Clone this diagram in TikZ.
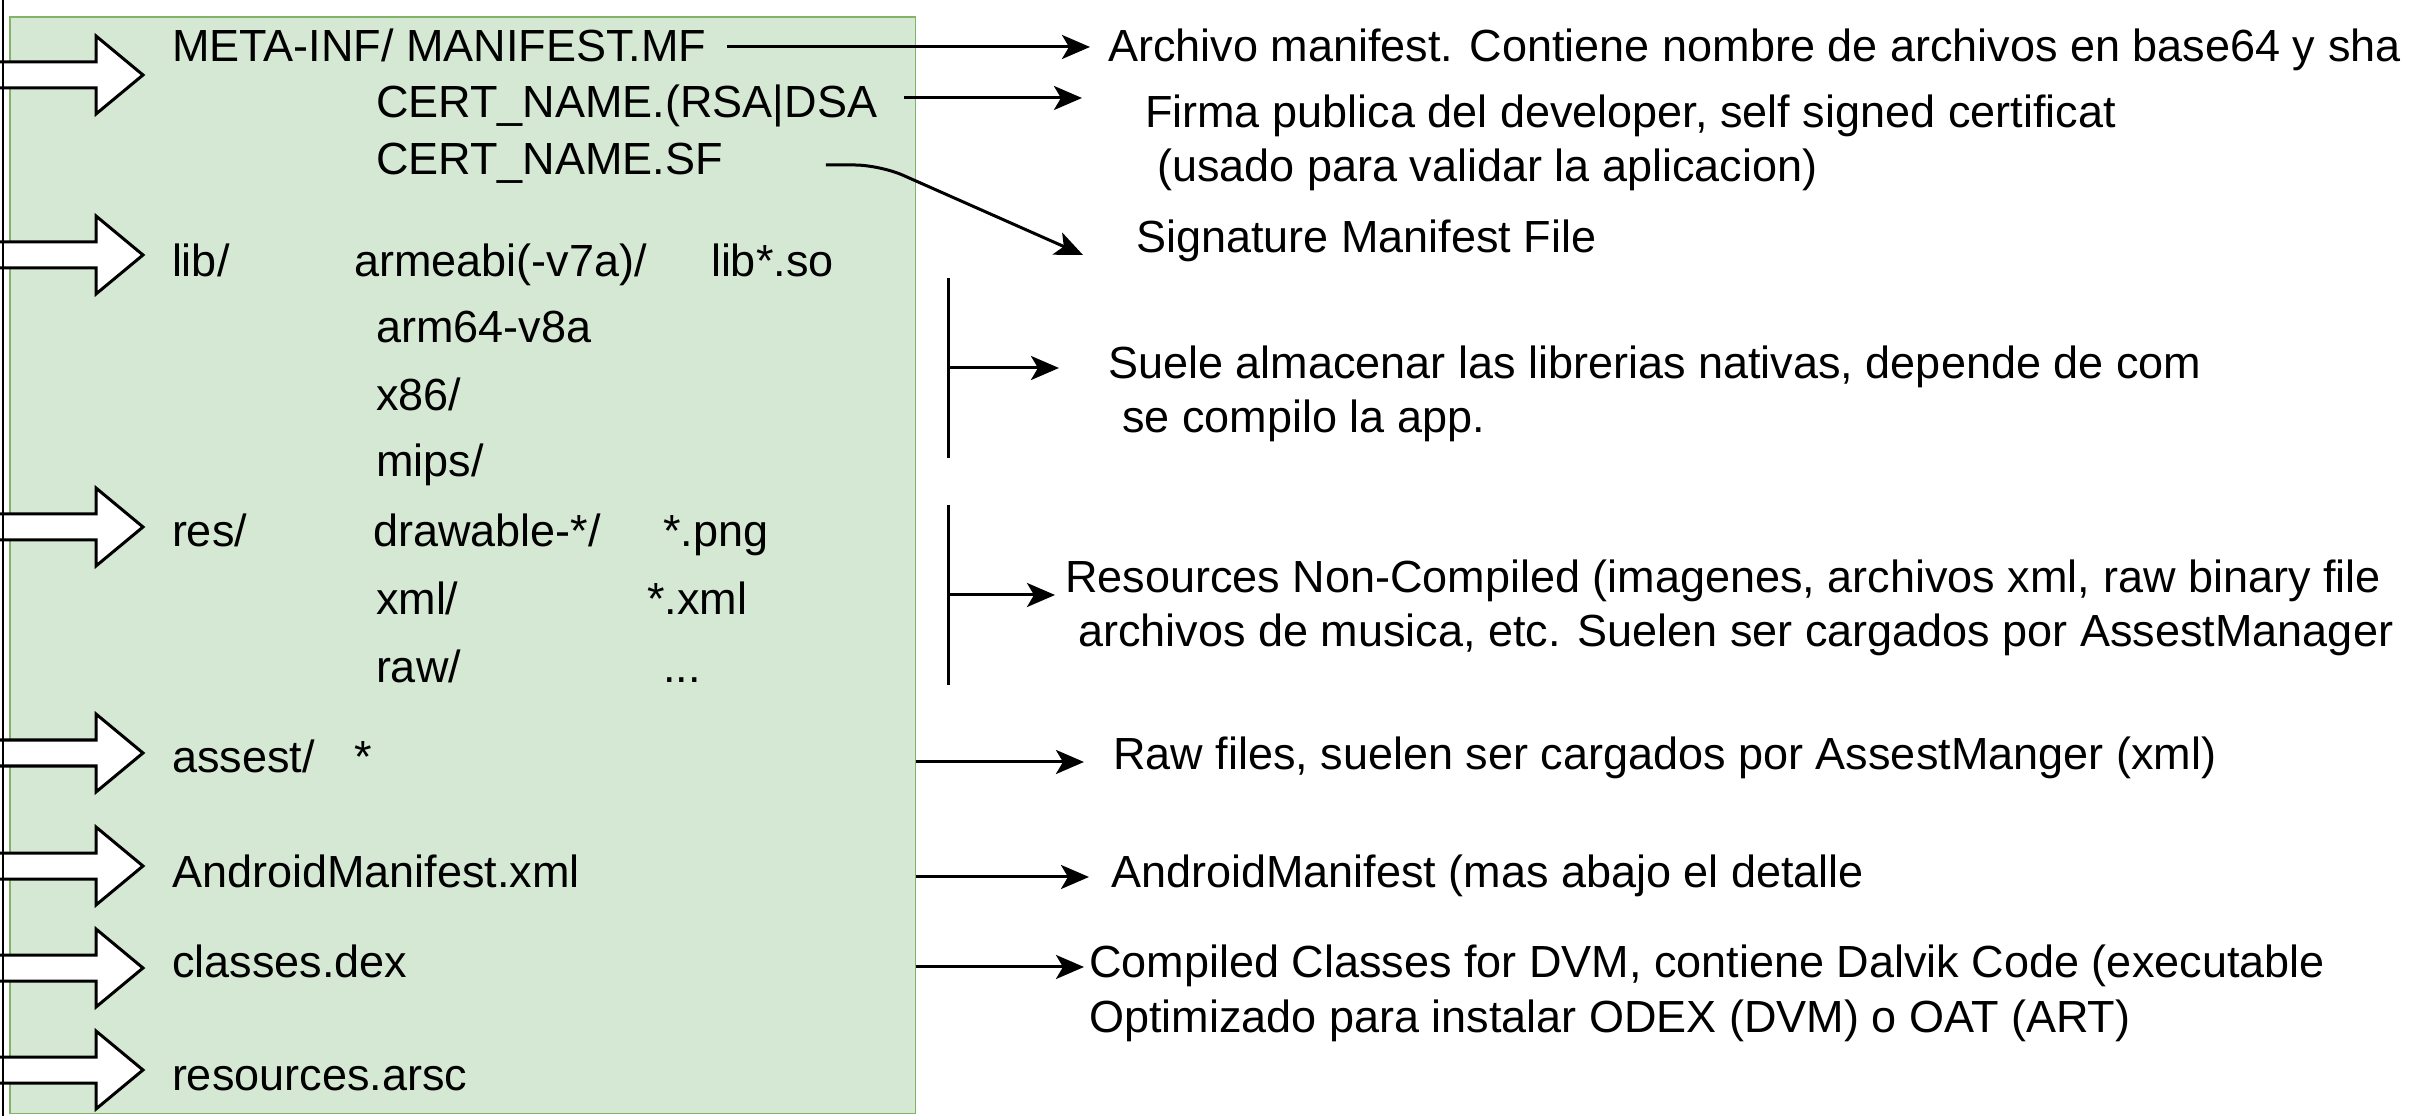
\documentclass[tikz,border=0pt]{standalone}
\usepackage{fontspec}
\setmainfont{Liberation Sans}
\usepackage{xcolor}
\definecolor{boxgreen}{RGB}{213,232,212}
\definecolor{boxline}{RGB}{130,179,102}
\usepackage{tikz}
\usetikzlibrary{calc}
\usetikzlibrary{arrows.meta}
\newcommand{\txtsize}{\fontsize{12.8pt}{15.6pt}\selectfont}
\newcommand{\widthpanel}{9.05cm}
\newcommand{\heightpanel}{10.96cm}
\tikzset{
    common/.style={anchor=base west, inner sep=0pt, outer sep=0pt, font=\txtsize},
    item/.style={common, text height=0.3cm, text depth=0.1cm},
    desc/.style={common, align=left},
    conn/.style={-{Stealth[length=0.28cm, width=0.24cm, inset=0.07cm]}, line width=0.03cm},
    bracket/.style={line width=0.03cm},
    bigarrow/.style={draw, fill=white, line width=0.03cm, line join=miter},
    panel/.style={draw=boxline, fill=boxgreen, line width=0.015cm, anchor=north west,
        minimum width=\widthpanel, minimum height=\heightpanel, inner sep=0pt, outer sep=0pt}
}

\begin{document}
\begin{tikzpicture}[x=0.01cm, y=-0.01cm]
        \useasboundingbox (0,0) rectangle (2418,1116);

        \node[panel] (apk) at (10,17) {};

        \foreach \y in {75,255,527,753,866,968,1070}
            \draw[bigarrow] (-20,\y-13) -- (96,\y-13) -- (96,\y-39) -- (143,\y)
                -- (96,\y+39) -- (96,\y+13) -- (-20,\y+13) -- cycle;

        % contenido del apk
        \node[item] (meta) at (172,62) {META-INF/ MANIFEST.MF};
        \node[item] (rsa) at (376,118) {CERT\_NAME.(RSA|DSA};
        \node[item] (sf) at (376,175) {CERT\_NAME.SF};
        \node[item] (lib) at (172,277) {lib/};
        \node[item] (armeabi) at (354,277) {armeabi(-v7a)/};
        \node[item] (libso) at (711,277) {lib*.so};
        \node[item] (arm64) at (376,343) {arm64-v8a};
        \node[item] (x86) at (376,411) {x86/};
        \node[item] (mips) at (376,477) {mips/};
        \node[item] (res) at (172,547) {res/};
        \node[item] (drawable) at (373,547) {drawable-*/};
        \node[item] (png) at (663,547) {*.png};
        \node[item] (xmldir) at (376,615) {xml/};
        \node[item] (xmlfiles) at (647,615) {*.xml};
        \node[item] (raw) at (376,683) {raw/};
        \node[item] (rawfiles) at (663,683) {...};
        \node[item] (assest) at (172,772) {assest/};
        \node[item] (assestall) at (354,772) {*};
        \node[item] (android) at (172,887) {AndroidManifest.xml};
        \node[item] (classes) at (172,977) {classes.dex};
        \node[item] (arsc) at (172,1090) {resources.arsc};

        % descripciones (las de dos lineas van por la base de la ultima linea)
        \node[desc] (metadesc) at (1108,62) {Archivo manifest. Contiene nombre de archivos en base64 y sha};
        \node[desc] (rsadesc) at (1145,182) {Firma publica del developer, self signed certificat\\\hspace*{0.12cm}(usado para validar la aplicacion)};
        \node[desc] (sfdesc) at (1136,253) {Signature Manifest File};
        \node[desc] (libdesc) at (1108,433) {Suele almacenar las librerias nativas, depende de com\\\hspace*{0.14cm}se compilo la app.};
        \node[desc] (resdesc) at (1065,647) {Resources Non-Compiled (imagenes, archivos xml, raw binary file\\\hspace*{0.13cm}archivos de musica, etc. Suelen ser cargados por AssestManager};
        \node[desc] (assestdesc) at (1113,770) {Raw files, suelen ser cargados por AssestManger (xml)};
        \node[desc] (androiddesc) at (1111,887) {AndroidManifest (mas abajo el detalle};
        \node[desc] (classesdesc) at (1089,1032) {Compiled Classes for DVM, contiene Dalvik Code (executable\\Optimizado para instalar ODEX (DVM) o OAT (ART)};

        \coordinate (metaout) at ([yshift=0.05cm]meta.east);
        \coordinate (rsaout) at ([yshift=0.1cm]rsa.east);
        \coordinate (libtop) at (948,278);
        \coordinate (libbot) at (948,458);
        \coordinate (restop) at (948,505);
        \coordinate (resbot) at (948,685);
        \coordinate (libmid) at ($(libtop)!0.5!(libbot)$);
        \coordinate (resmid) at ($(restop)!0.5!(resbot)$);

        \draw[bracket]
          (libtop) -- (libbot)
          (restop) -- (resbot);

        \draw[conn, shorten <=0.21cm, shorten >=0.18cm] (metaout) -- (metaout -| metadesc.west);
        \draw[conn, shorten <=0.27cm, shorten >=0.63cm] (rsaout) -- (rsaout -| rsadesc.west);
        \draw[conn, rounded corners=0.25cm, shorten <=1.03cm] (sf.east) -- ++(157,0) -- ($(sfdesc.base west)+(-53,2)$);
        \draw[conn, shorten >=0.49cm] (libmid) -- (libmid -| libdesc.west);
        \draw[conn, shorten >=0.1cm] (resmid) -- (resmid -| resdesc.west);
        \draw[conn, shorten >=0.29cm] (apk.east |- assest.east) -- (assest.east -| assestdesc.west);
        \draw[conn, shorten >=0.22cm] (apk.east |- android.east) -- (android.east -| androiddesc.west);
        \draw[conn, shorten >=0.05cm] (apk.east |- classes.east) -- (classes.east -| classesdesc.west);

        \draw[line width=0.025cm] (3,0) -- (3,1116);
\end{tikzpicture}
\end{document}
